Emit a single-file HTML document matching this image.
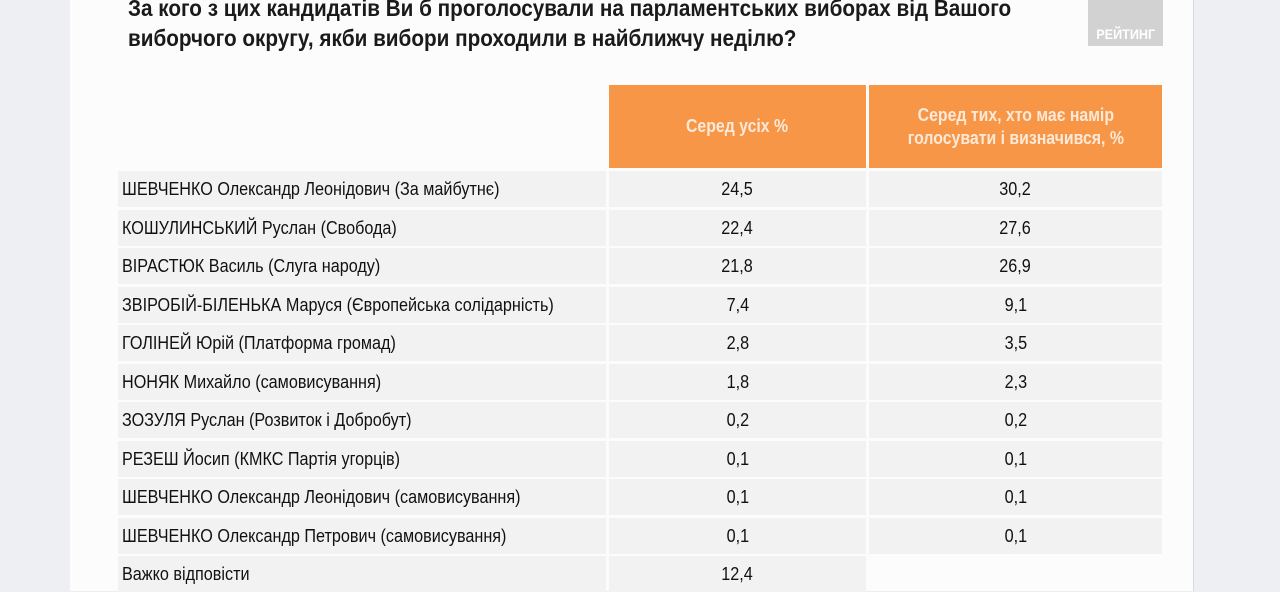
<!DOCTYPE html>
<html><head><meta charset="utf-8"><style>
*{margin:0;padding:0;box-sizing:border-box}
body{width:1280px;height:591px;overflow:hidden;background:#eeeff3;font-family:"Liberation Sans","Noto Sans CJK SC",sans-serif;position:relative}
.page{position:absolute;left:70px;top:0;width:1124px;height:591px;background:#fcfcfc;border-right:1px solid #d8d9dd}
.title{position:absolute;left:128px;top:-7px;font-weight:bold;font-size:23px;line-height:30px;color:#1a1a1a;transform:scaleX(0.9);transform-origin:0 0;white-space:nowrap}
.rt{position:absolute;left:1088px;top:0;width:75px;height:46px;background:#d2d2d2;color:#fff;font-weight:bold;font-size:14px;text-align:center;padding-top:26px}
.rt span{display:inline-block;transform:scaleX(0.9)}
.h{position:absolute;top:85px;height:83px;background:#f79646;color:#fde9d9;font-weight:bold;font-size:18px;line-height:23px;display:flex;align-items:center;justify-content:center;text-align:center}
.h span{display:inline-block;transform:scaleX(0.88);white-space:nowrap}
.c{position:absolute;height:36px;background:#f2f2f2;font-size:18.5px;color:#111;display:flex;align-items:center}
.c span{display:inline-block;transform:scaleX(0.875);white-space:nowrap}
.l{left:118px;width:488px;padding-left:4px}
.l span{transform-origin:0 50%}
.a{left:609px;width:257px;justify-content:center}
.b{left:869px;width:293px;justify-content:center}
</style></head><body>
<div class="page"></div>
<div class="title">За кого з цих кандидатів Ви б проголосували на парламентських виборах від Вашого<br>виборчого округу, якби вибори проходили в найближчу неділю?</div>
<div class="rt"><span>РЕЙТИНГ</span></div>
<div class="h" style="left:609px;width:257px"><span>Серед усіх %</span></div>
<div class="h" style="left:869px;width:293px"><span>Серед тих, хто має намір<br>голосувати і визначився, %</span></div>
<div class="c l" style="top:171px"><span>ШЕВЧЕНКО Олександр Леонідович (За майбутнє)</span></div><div class="c a" style="top:171px"><span>24,5</span></div><div class="c b" style="top:171px"><span>30,2</span></div>
<div class="c l" style="top:209.5px"><span>КОШУЛИНСЬКИЙ Руслан (Свобода)</span></div><div class="c a" style="top:209.5px"><span>22,4</span></div><div class="c b" style="top:209.5px"><span>27,6</span></div>
<div class="c l" style="top:248px"><span>ВІРАСТЮК Василь (Слуга народу)</span></div><div class="c a" style="top:248px"><span>21,8</span></div><div class="c b" style="top:248px"><span>26,9</span></div>
<div class="c l" style="top:286.5px"><span>ЗВІРОБІЙ-БІЛЕНЬКА Маруся (Європейська солідарність)</span></div><div class="c a" style="top:286.5px"><span>7,4</span></div><div class="c b" style="top:286.5px"><span>9,1</span></div>
<div class="c l" style="top:325px"><span>ГОЛІНЕЙ Юрій (Платформа громад)</span></div><div class="c a" style="top:325px"><span>2,8</span></div><div class="c b" style="top:325px"><span>3,5</span></div>
<div class="c l" style="top:363.5px"><span>НОНЯК Михайло (самовисування)</span></div><div class="c a" style="top:363.5px"><span>1,8</span></div><div class="c b" style="top:363.5px"><span>2,3</span></div>
<div class="c l" style="top:402px"><span>ЗОЗУЛЯ Руслан (Розвиток і Добробут)</span></div><div class="c a" style="top:402px"><span>0,2</span></div><div class="c b" style="top:402px"><span>0,2</span></div>
<div class="c l" style="top:440.5px"><span>РЕЗЕШ Йосип (КМКС Партія угорців)</span></div><div class="c a" style="top:440.5px"><span>0,1</span></div><div class="c b" style="top:440.5px"><span>0,1</span></div>
<div class="c l" style="top:479px"><span>ШЕВЧЕНКО Олександр Леонідович (самовисування)</span></div><div class="c a" style="top:479px"><span>0,1</span></div><div class="c b" style="top:479px"><span>0,1</span></div>
<div class="c l" style="top:517.5px"><span>ШЕВЧЕНКО Олександр Петрович (самовисування)</span></div><div class="c a" style="top:517.5px"><span>0,1</span></div><div class="c b" style="top:517.5px"><span>0,1</span></div>
<div class="c l" style="top:556px"><span>Важко відповісти</span></div><div class="c a" style="top:556px"><span>12,4</span></div>
</body></html>
